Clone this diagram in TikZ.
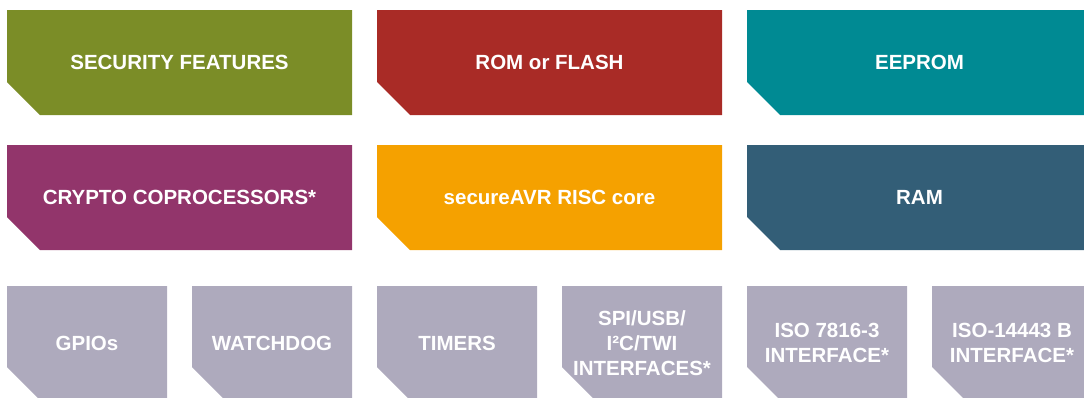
\documentclass[tikz,border=0pt]{standalone}
\usepackage{fontspec}
\setmainfont{Liberation Sans}
\usepackage{tikz}
\usetikzlibrary{backgrounds}
\usetikzlibrary{positioning}
\definecolor{secgreen}{HTML}{7B8D27}
\definecolor{romred}{HTML}{A92B26}
\definecolor{eepteal}{HTML}{008A93}
\definecolor{cryptopurple}{HTML}{92356B}
\definecolor{coreorange}{HTML}{F5A100}
\definecolor{ramslate}{HTML}{335E77}
\definecolor{iogray}{HTML}{AEAABD}

\begin{document}
\begin{tikzpicture}[x=1pt, y=-1pt, blk/.style={rectangle, inner sep=0pt, outer sep=0pt, text=white, font=\fontsize{20.5}{25}\selectfont\bfseries, align=center}, big/.style={blk, minimum width=345pt, minimum height=105pt}, small/.style={blk, minimum width=160pt, minimum height=114pt}, node distance=135pt and 370pt, on grid]
		\useasboundingbox (0,0) rectangle (1084,397);
		% memory and core
		\node[big] (sec) at (179.5,62.5) {SECURITY FEATURES};
		\node[big] (rom) [right=of sec] {ROM or FLASH};
		\node[big] (eep) [right=of rom] {EEPROM};
		\node[big] (crypto) [below=of sec] {CRYPTO COPROCESSORS*};
		\node[big] (core) [below=of rom] {secureAVR RISC core};
		\node[big] (ram) [below=of eep] {RAM};
		% peripherals
		\node[small] (gpio) at (87,343) {GPIOs};
		\node[small] (wdog) [right=185pt of gpio] {WATCHDOG};
		\node[small] (timers) [right=185pt of wdog] {TIMERS};
		\node[small] (spi) [right=185pt of timers] {SPI/USB/\\I²C/TWI\\INTERFACES*};
		\node[small] (iso7816) [right=185pt of spi] {ISO 7816-3\\INTERFACE*};
		\node[small] (iso14443) [right=185pt of iso7816] {ISO-14443 B\\INTERFACE*};
		% chamfered fills
		\begin{scope}[on background layer]
			\foreach \n/\c in {sec/secgreen, rom/romred, eep/eepteal, crypto/cryptopurple, core/coreorange, ram/ramslate, gpio/iogray, wdog/iogray, timers/iogray, spi/iogray, iso7816/iogray, iso14443/iogray}
				\fill[\c] (\n.north west) -- (\n.north east) -- (\n.south east) -- ([xshift=33pt]\n.south west) -- ([yshift=33pt]\n.south west) -- cycle;
		\end{scope}
	\end{tikzpicture}
\end{document}
